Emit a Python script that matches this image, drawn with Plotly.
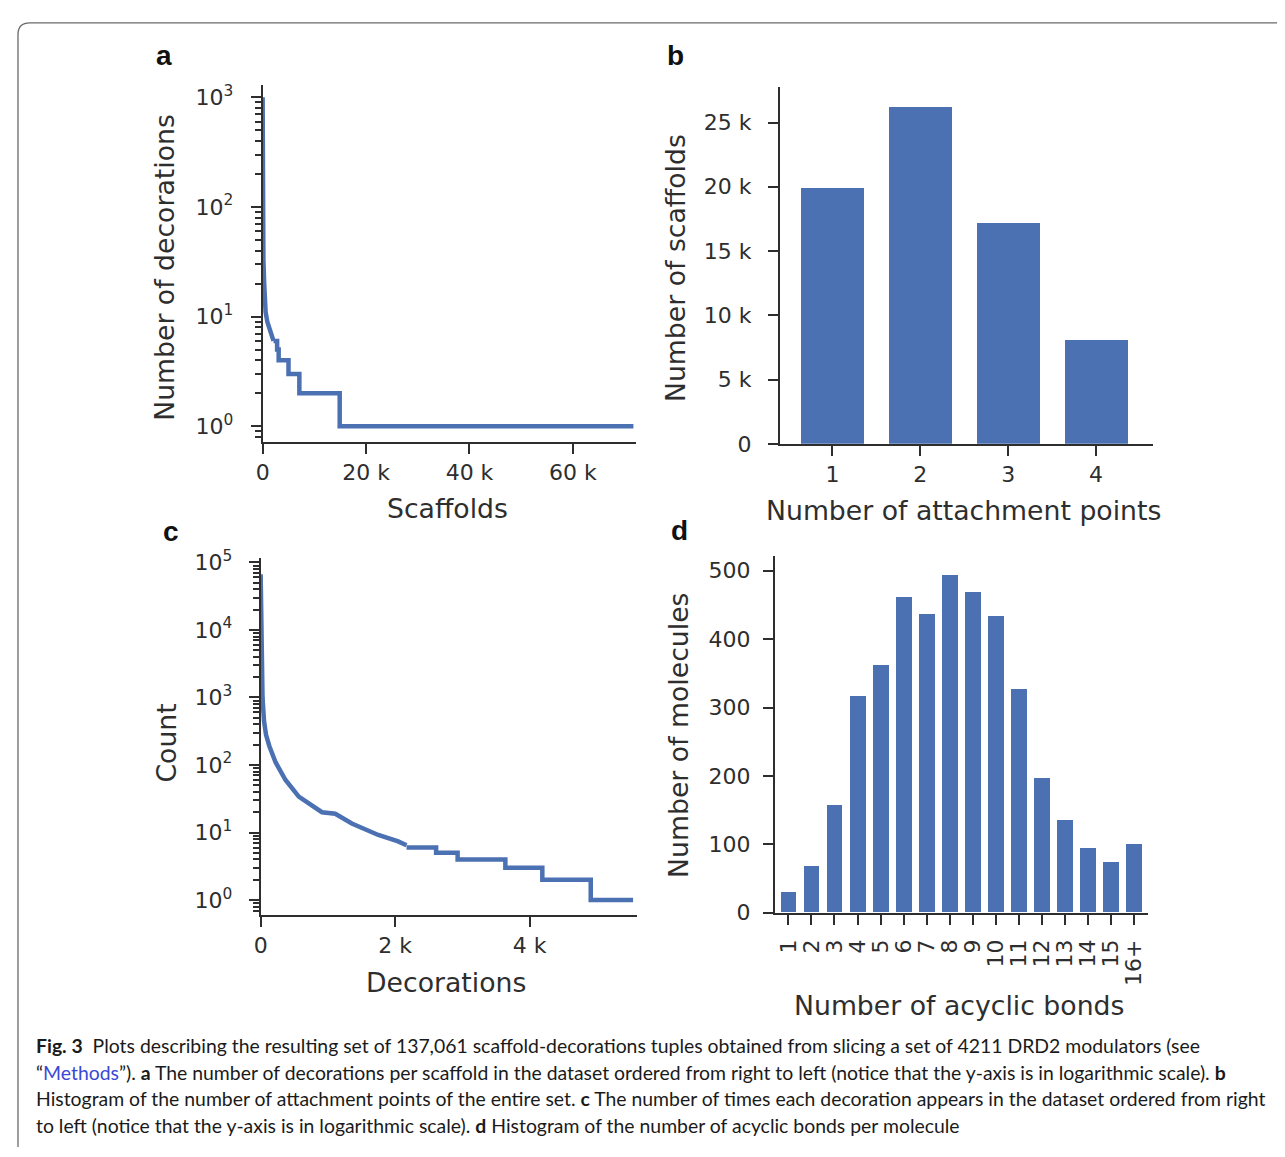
import plotly.graph_objects as go

# page body keeps an 8px margin, so the figure is sized to fit inside the window
OFF = 8
W, H = 1285 - OFF, 1139

# ---------------- data ----------------
# Panel a: decorations per scaffold (scaffold rank, number of decorations)
a_head_rank = [0, 3, 10, 30, 80, 150, 300, 577, 900, 1500, 2100]
a_head_count = [1000, 400, 200, 100, 50, 33, 20, 11, 9, 7.4, 6]
a_tail_rank = [2100, 2800, 3100, 5000, 7100, 14900, 71700]
a_tail_count = [6, 5, 4, 3, 2, 1, 1]

# Panel b: scaffolds per number of attachment points
b_points = [1, 2, 3, 4]
b_scaffolds = [19930, 26270, 17220, 8080]

# Panel c: occurrences of each decoration (decoration rank, count)
c_head_rank = [0, 4, 10, 18, 28, 50, 80, 130, 222, 370, 567, 912, 1110, 1356, 1750, 2046, 2170]
c_head_count = [67000, 20000, 5000, 2000, 1000, 450, 280, 190, 110, 60, 34, 20, 19, 13.6, 9.2, 7.4, 6.5]
c_tail_rank = [2170, 2610, 2930, 3640, 4190, 4910, 5540]
c_tail_count = [6, 5, 4, 3, 2, 1, 1]

# Panel d: molecules per number of acyclic bonds
d_labels = ["1", "2", "3", "4", "5", "6", "7", "8", "9", "10", "11", "12", "13", "14", "15", "16+"]
d_molecules = [30, 68, 157, 317, 362, 461, 436, 493, 468, 433, 327, 196, 135, 94, 74, 100]

a_xticks = [0, 20000, 40000, 60000]
a_xticktext = ["0", "20 k", "40 k", "60 k"]
a_yticks = [1, 10, 100, 1000]
b_yticks = [0, 5000, 10000, 15000, 20000, 25000]
b_yticktext = ["0", "5 k", "10 k", "15 k", "20 k", "25 k"]
c_xticks = [0, 2000, 4000]
c_xticktext = ["0", "2 k", "4 k"]
c_yticks = [1, 10, 100, 1000, 10000, 100000]
d_yticks = [0, 100, 200, 300, 400, 500]

BLUE = "#4b71b2"
INK = "#2e2e2e"
FONT = "DejaVu Sans"


def fx(x):
    return (x - OFF) / W


def fy(y):
    return 1 - (y - OFF) / H


def sup_labels(vals):
    return ["10<sup>%d</sup>" % (len(str(int(v))) - 1) for v in vals]


minor_log = [m * 10 ** e for e in range(-1, 6) for m in range(2, 10)]

fig = go.Figure()

line_style = dict(color=BLUE, width=4.5)
fig.add_trace(go.Scatter(x=a_head_rank, y=a_head_count, mode="lines", line=line_style,
                         xaxis="x", yaxis="y", showlegend=False))
fig.add_trace(go.Scatter(x=a_tail_rank, y=a_tail_count, mode="lines", line=dict(line_style, shape="hv"),
                         xaxis="x", yaxis="y", showlegend=False))
fig.add_trace(go.Bar(x=b_points, y=b_scaffolds, width=0.72, marker=dict(color=BLUE, line=dict(width=0)),
                     xaxis="x2", yaxis="y2", showlegend=False))
fig.add_trace(go.Scatter(x=c_head_rank, y=c_head_count, mode="lines", line=line_style,
                         xaxis="x3", yaxis="y3", showlegend=False))
fig.add_trace(go.Scatter(x=c_tail_rank, y=c_tail_count, mode="lines", line=dict(line_style, shape="hv"),
                         xaxis="x3", yaxis="y3", showlegend=False))
fig.add_trace(go.Bar(x=list(range(len(d_labels))), y=d_molecules, width=0.68,
                     marker=dict(color=BLUE, line=dict(width=0)),
                     xaxis="x4", yaxis="y4", showlegend=False))

tickfont = dict(family=FONT, size=22, color=INK)
common = dict(showline=True, linecolor=INK, linewidth=2, ticks="outside", ticklen=10, tickwidth=2,
              tickcolor=INK, showgrid=False, zeroline=False, tickfont=tickfont, fixedrange=True)
minor_cfg = dict(ticks="outside", ticklen=5.5, tickwidth=1.6, tickcolor=INK, tickvals=minor_log, showgrid=False)

layout = dict(
    width=W, height=H, autosize=False,
    margin=dict(l=0, r=0, t=0, b=0, pad=0),
    paper_bgcolor="white", plot_bgcolor="white",
    bargap=0,
    xaxis=dict(common, domain=[fx(257), fx(632)], range=[0, 72115], anchor="y",
               tickmode="array", tickvals=a_xticks, ticktext=a_xticktext),
    yaxis=dict(common, domain=[fy(440), fy(75)], type="log", range=[-0.143, 3.116], anchor="x",
               tickmode="array", tickvals=a_yticks, ticktext=sup_labels(a_yticks), minor=minor_cfg,
               ticklabelstandoff=13),
    xaxis2=dict(common, domain=[fx(777), fx(1152)], range=[0.4, 4.645], anchor="y2",
                tickmode="array", tickvals=b_points, ticktext=[str(p) for p in b_points]),
    yaxis2=dict(common, domain=[fy(442), fy(77)], range=[0, 27800], anchor="x2",
                tickmode="array", tickvals=b_yticks, ticktext=b_yticktext, ticklabelstandoff=12),
    xaxis3=dict(common, domain=[fx(255), fx(633)], range=[0, 5592], anchor="y3",
                tickmode="array", tickvals=c_xticks, ticktext=c_xticktext),
    yaxis3=dict(common, domain=[fy(923), fy(559)], type="log", range=[-0.217, 5.06], anchor="x3",
                tickmode="array", tickvals=c_yticks, ticktext=sup_labels(c_yticks), minor=minor_cfg,
                ticklabelstandoff=12),
    xaxis4=dict(common, domain=[fx(772), fx(1147)], range=[-0.59, 15.6], anchor="y4",
                tickmode="array", tickvals=list(range(len(d_labels))), ticktext=d_labels, tickangle=-90,
                ticklabelstandoff=6),
    yaxis4=dict(common, domain=[fy(921), fy(557)], range=[0, 521], anchor="x4",
                tickmode="array", tickvals=d_yticks, ticktext=[str(v) for v in d_yticks],
                ticklabelstandoff=8),
)
fig.update_layout(**layout)

title_font = dict(family=FONT, size=26.7, color=INK)
ann = []


def add_text(text, x, y, font, angle=0, xanchor="center", yanchor="middle"):
    ann.append(dict(text=text, x=fx(x), y=fy(y), xref="paper", yref="paper", showarrow=False,
                    font=font, textangle=angle, xanchor=xanchor, yanchor=yanchor))


add_text("Number of decorations", 158, 262, title_font, -90)
add_text("Scaffolds", 443, 508, title_font)
add_text("Number of scaffolds", 672, 262, title_font, -90)
add_text("Number of attachment points", 962, 510, title_font)
add_text("Count", 160, 748, title_font, -90)
add_text("Decorations", 441, 992, title_font)
add_text("Number of molecules", 675, 740, title_font, -90)
add_text("Number of acyclic bonds", 957, 1016, title_font)

letter_font = dict(family="Liberation Sans", size=28, color="#111111")
add_text("<b>a</b>", 158, 45, letter_font)
add_text("<b>b</b>", 672, 45, letter_font)
add_text("<b>c</b>", 165, 532, letter_font)
add_text("<b>d</b>", 676, 530, letter_font)

cap_font = dict(family="Lato", size=19.4, color="#1a1a1a")
caption_lines = [
    "<b>Fig. 3</b>  Plots describing the resulting set of 137,061 scaffold-decorations tuples obtained from slicing a set of 4211 DRD2 modulators (see",
    "“<span style='color:#3a48d6'>Methods</span>”). <b>a</b> The number of decorations per scaffold in the dataset ordered from right to left (notice that the y-axis is in logarithmic scale). <b>b</b>",
    "Histogram of the number of attachment points of the entire set. <b>c</b> The number of times each decoration appears in the dataset ordered from right",
    "to left (notice that the y-axis is in logarithmic scale). <b>d</b> Histogram of the number of acyclic bonds per molecule",
]
for i, line in enumerate(caption_lines):
    add_text(line, 27, 1057 + 27 * i, cap_font, xanchor="left")

fig.update_layout(annotations=ann)

# rounded frame around the figure and caption
x0, y0, r = 11, 12, 12
path = "M %f,%f L %f,%f Q %f,%f %f,%f L %f,%f" % (
    fx(x0), fy(H + 40), fx(x0), fy(y0 + r), fx(x0), fy(y0), fx(x0 + r), fy(y0), fx(1300), fy(y0))
fig.update_layout(shapes=[dict(type="path", path=path, xref="paper", yref="paper",
                               line=dict(color="#6a6a6a", width=1.3))])

fig.write_html("out.html", config={"displayModeBar": False})
